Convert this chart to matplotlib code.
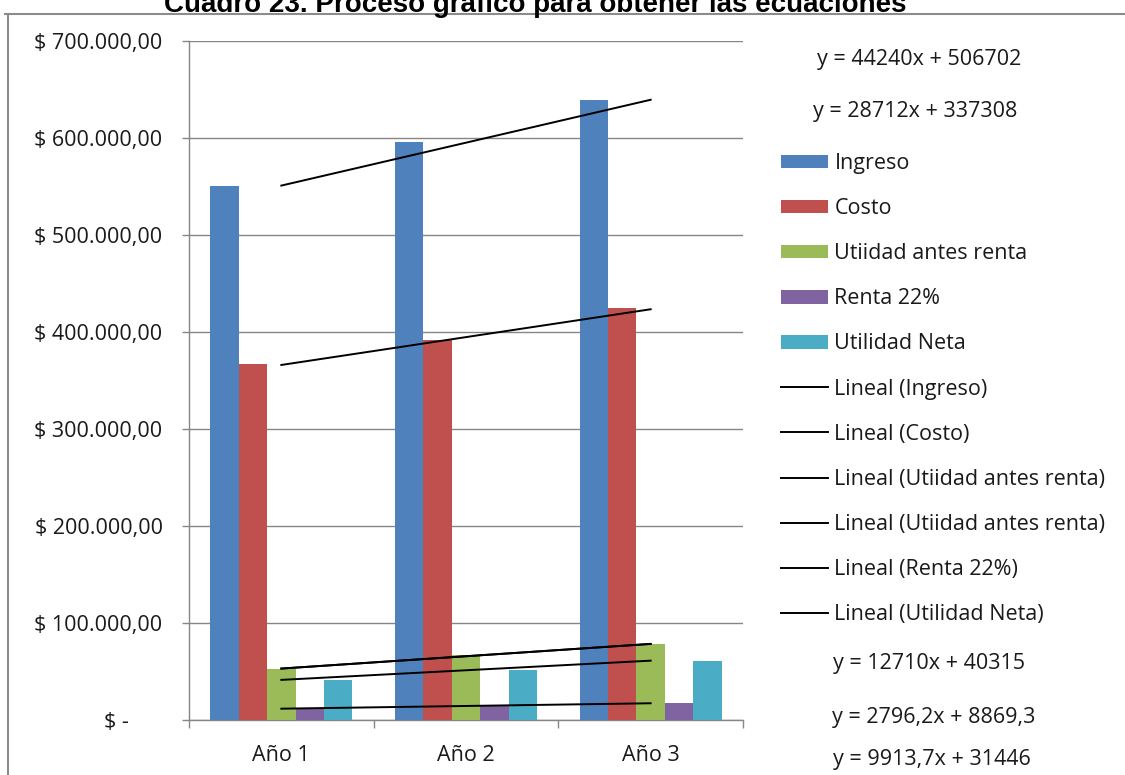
import numpy as np
import matplotlib
matplotlib.use("Agg")
import matplotlib.pyplot as plt
from matplotlib.lines import Line2D
from matplotlib.patches import Patch

# Data per year
years = ["Año 1", "Año 2", "Año 3"]
ingreso = [550783, 595500, 639263]
costo = [367386, 392000, 424810]
utilidad_antes_renta = [52642.5, 66500, 78062.5]
renta = [11580, 14632.7, 17172.4]
utilidad_neta = [41100, 51792.8, 60927.4]

series_names = ["Ingreso", "Costo", "Utiidad antes renta", "Renta 22%", "Utilidad Neta"]
series_colors = ["#4F81BD", "#C0504D", "#9BBB59", "#8064A2", "#4BACC6"]
trend_names = ["Lineal (Ingreso)", "Lineal (Costo)", "Lineal (Utiidad antes renta)",
               "Lineal (Utiidad antes renta)", "Lineal (Renta 22%)", "Lineal (Utilidad Neta)"]

y_ticks = [0, 100000, 200000, 300000, 400000, 500000, 600000, 700000]

W, H = 1125, 775
FONT = "Open Sans"
FS = 15.5
TXT = "#1a1a1a"


def px(x, y):
    # pixel position -> figure fraction
    return x / W, 1 - y / H


def fmt_money(v):
    if v == 0:
        return "$ -      "
    s = f"{v:,.2f}".replace(",", "X").replace(".", ",").replace("X", ".")
    return f"$ {s}"


def fmt_coef(v):
    if abs(v) >= 10000:
        s = f"{round(v):d}"
    else:
        s = f"{v:.5g}"
    return s.replace(".", ",")


fig = plt.figure(figsize=(W / 100, H / 100), dpi=100)
ax = fig.add_axes([189 / W, 1 - 720 / H, (743 - 189) / W, (720 - 41) / H])

all_series = [ingreso, costo, utilidad_antes_renta, renta, utilidad_neta]
x = np.arange(len(years))
n = len(all_series)
bw = 1 / (n + 1.5)
for i, (vals, color, name) in enumerate(zip(all_series, series_colors, series_names)):
    offs = (i - (n - 1) / 2) * bw
    ax.bar(x + offs, vals, width=bw, color=color, label=name, zorder=3)

# linear trendlines (least squares on x = 1, 2, 3)
xs = np.array([1, 2, 3])
trend_series = [ingreso, costo, utilidad_antes_renta, utilidad_antes_renta, renta, utilidad_neta]
fits = []
for vals in trend_series:
    m, b = np.polyfit(xs, vals, 1)
    fits.append((m, b))
    ax.plot(x, m * xs + b, color="black", lw=1.4, zorder=4)

ax.set_xlim(-0.5, 2.5)
ax.set_ylim(0, 700000)
ax.set_yticks(y_ticks)
ax.set_yticklabels([fmt_money(v) for v in y_ticks], fontfamily=FONT, fontsize=FS, color=TXT)
ax.set_xticks([-0.5, 0.5, 1.5, 2.5])
ax.set_xticklabels([])
ax.set_xticks(x, minor=True)
ax.set_xticklabels(years, minor=True, fontfamily=FONT, fontsize=FS, color=TXT)
ax.tick_params(axis="x", which="minor", length=0, pad=18)
ax.tick_params(axis="x", which="major", length=6, width=1, color="#868686", direction="out")
ax.tick_params(axis="y", length=5, width=1, color="#868686", direction="out", pad=14)
ax.grid(axis="y", color="#868686", lw=1, zorder=0)
for side in ["top", "right"]:
    ax.spines[side].set_visible(False)
for side in ["left", "bottom"]:
    ax.spines[side].set_color("#868686")
    ax.spines[side].set_linewidth(1)

# legend
handles = [Patch(facecolor=c, edgecolor="none") for c in series_colors]
handles += [Line2D([], [], color="black", lw=1.4) for _ in trend_names]
fig.legend(handles, series_names + trend_names, loc="upper left",
           bbox_to_anchor=px(781, 153), frameon=False, borderpad=0, borderaxespad=0,
           handlelength=2.2, handleheight=0.6, handletextpad=0.28, labelspacing=1.12,
           prop={"family": FONT, "size": FS}, labelcolor=TXT)

# trendline equations
eq_pos = [(817, 59), (813, 111), None, (833, 663), (832, 718), (833, 760)]
for (m, b), pos in zip(fits, eq_pos):
    if pos is None:
        continue
    fig.text(*px(*pos), f"y = {fmt_coef(m)}x + {fmt_coef(b)}", ha="left", va="center",
             fontfamily=FONT, fontsize=FS, color=TXT)

# outer frame
frame_kw = dict(color="#8c8c8c", lw=1.5, transform=fig.transFigure)
fig.add_artist(Line2D([px(5, 0)[0], 1], [px(0, 14)[1]] * 2, **frame_kw))
fig.add_artist(Line2D([px(8, 0)[0]] * 2, [px(0, 14)[1], 0], **frame_kw))

fig.text(*px(535, 12), "Cuadro 23. Proceso gráfico para obtener las ecuaciones",
         ha="center", va="baseline", fontfamily="Liberation Sans", fontweight="bold",
         fontsize=20, color="black")

fig.savefig("out.png", dpi=100)
